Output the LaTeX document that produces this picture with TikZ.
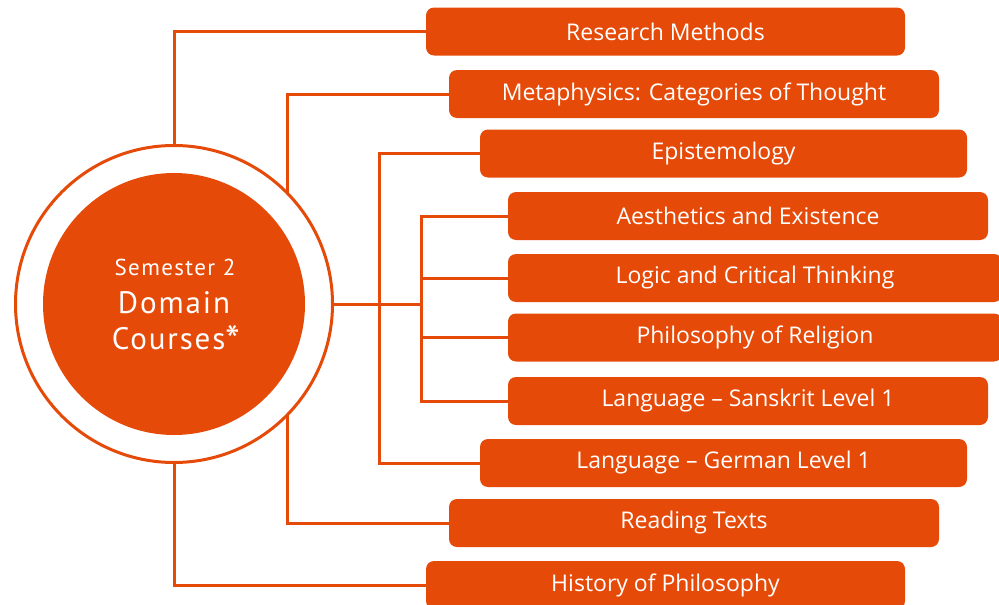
\documentclass[tikz,border=0pt]{standalone}
\usepackage{fontspec}
\setmainfont{Open Sans}
\newfontfamily\circfont[LetterSpace=6]{PT Sans}
\usetikzlibrary{backgrounds}
\definecolor{brand}{RGB}{230,74,8}
\begin{document}
\begin{tikzpicture}[x=1pt,y=-1pt,
  course/.style={fill=brand, text=white, rounded corners=8pt, minimum height=48pt,
    inner sep=0pt, font=\fontsize{23}{27}\selectfont},
  circtext/.style={text=white, anchor=base, inner sep=0pt},
  link/.style={draw=brand, line width=3pt}]
\useasboundingbox (0,0) rectangle (999,605);
% course boxes
\node[course, minimum width=479pt] (rm)    at (665.5,31.5)  {Research Methods};
\node[course, minimum width=490pt] (meta)  at (694,94)  {Metaphysics: Categories of Thought};
\node[course, minimum width=487pt] (epi)   at (723.5,153.5) {Epistemology};
\node[course, minimum width=480pt] (aes)   at (748,216)   {Aesthetics and Existence};
\node[course, minimum width=494pt] (logic) at (755,278)   {Logic and Critical Thinking};
\node[course, minimum width=494pt] (rel)   at (755,337.5) {Philosophy of Religion};
\node[course, minimum width=480pt] (sans)  at (748,401)   {Language -- Sanskrit Level 1};
\node[course, minimum width=487pt] (ger)   at (723.5,463) {Language -- German Level 1};
\node[course, minimum width=490pt] (read)  at (694,523)   {Reading Texts};
\node[course, minimum width=479pt] (hist)  at (665.5,585) {History of Philosophy};
% centre
\node[circle, draw=brand, line width=3pt, fill=white, minimum size=317pt] (outer) at (174,304) {};
\node[circle, fill=brand, minimum size=262pt, inner sep=0pt] (inner) at (174,304) {};
\node[circtext, font=\circfont\fontsize{23}{27}\selectfont] (t1) at (175,275) {Semester 2};
\node[circtext, font=\circfont\fontsize{31}{36}\selectfont] (t2) at (174,313) {Domain};
\node[circtext, font=\circfont\fontsize{31}{36}\selectfont] (t3) at (176,349) {Courses\raisebox{-6pt}{\fontsize{42}{42}\selectfont *}};
\coordinate (b2) at (287,304);
\coordinate (b3) at (379,304);
\coordinate (b4) at (421,304);
\begin{scope}[on background layer]
  \draw[link] (rm.west) -| (outer.north);
  \draw[link] (hist.west) -| (outer.south);
  \draw[link] (meta.west) -| (b2) |- (read.west);
  \draw[link] (epi.west) -| (b3) |- (ger.west);
  \draw[link] (aes.west) -| (b4) |- (sans.west);
  \draw[link] (logic.west) -- (logic.west -| b4);
  \draw[link] (rel.west) -- (rel.west -| b4);
  \draw[link] (outer.east) -- (b4);
\end{scope}
\end{tikzpicture}
\end{document}
